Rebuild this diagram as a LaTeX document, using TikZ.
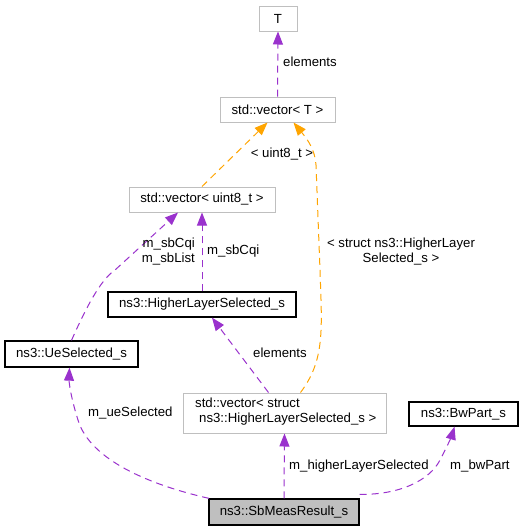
\documentclass[tikz,border=0pt]{standalone}
\usepackage{fontspec}
\setmainfont{Liberation Sans}
\usetikzlibrary{arrows.meta}
\definecolor{edgepurple}{RGB}{154,50,205}
\definecolor{edgeorange}{RGB}{255,165,0}
\definecolor{boxgrey}{RGB}{191,191,191}
\begin{document}
\begin{tikzpicture}[x=1pt,y=-1pt,
  every node/.style={font=\fontsize{13.2}{15}\selectfont, inner sep=0pt},
  greybox/.style={draw=boxgrey, line width=1pt, fill=white},
  blackbox/.style={draw=black, line width=1.3pt, fill=white},
  mainbox/.style={draw=black, line width=1.3pt, fill=boxgrey},
  purp/.style={draw=edgepurple, line width=1pt, dash pattern=on 7pt off 5pt, -{Triangle[length=13pt,width=10pt,fill=edgepurple]}},
  oran/.style={draw=edgeorange, line width=1pt, dash pattern=on 7pt off 5pt, -{Triangle[length=13pt,width=10pt,fill=edgeorange]}},
  lbl/.style={font=\fontsize{13.2}{15}\selectfont, inner sep=0pt}]
\useasboundingbox (0,0) rectangle (524,531);
\fill[white] (0,0) rectangle (524,531);
% nodes
\node[greybox, minimum width=38pt, minimum height=25pt] (T) at (278,18.5) {T};
\node[greybox, minimum width=115pt, minimum height=25pt] (vecT) at (277.5,109.5) {std::vector< T >};
\node[greybox, minimum width=146pt, minimum height=25pt] (vecU) at (202,199.5) {std::vector< uint8\_t >};
\node[blackbox, minimum width=188pt, minimum height=25pt] (HLS) at (202,304.5) {ns3::HigherLayerSelected\_s};
\node[blackbox, minimum width=133pt, minimum height=26pt] (Ue) at (71.5,354) {ns3::UeSelected\_s};
\node[greybox, minimum width=203pt, minimum height=40pt] (vecS) at (284.5,413) {};
\node[lbl, anchor=north west, align=left] (vecStxt) at (195,398) {std::vector< struct\\\hspace{4pt}ns3::HigherLayerSelected\_s >};
\node[blackbox, minimum width=109pt, minimum height=24pt] (Bw) at (463.5,414) {ns3::BwPart\_s};
\node[mainbox, minimum width=150pt, minimum height=26pt] (Sb) at (284,512) {ns3::SbMeasResult\_s};
% edges
\draw[purp] (vecT.north) -- (T.south);
\node[lbl, anchor=west] (l1) at (283,62) {elements};
\draw[oran] (vecU.north) -- ([xshift=-10pt]vecT.south);
\node[lbl] (l2) at (282,154) {< uint8\_t >};
\draw[oran] ([xshift=16pt]vecS.north) .. controls (325,360) and (322,330) .. (320,270)
  -- (316,165) .. controls (315,150) and (308,140) .. ([xshift=16pt]vecT.south);
\node[lbl, align=center] (l3) at (401,252) {< struct ns3::HigherLayer\\Selected\_s >};
\draw[purp] (Ue.north) .. controls (85,310) and (100,280) .. (115,270) -- ([xshift=-24pt]vecU.south);
\node[lbl, align=right, anchor=east] (l4) at (195,252) {m\_sbCqi\\m\_sbList};
\draw[purp] (HLS.north) -- (vecU.south);
\node[lbl, anchor=west] (l5) at (207,251) {m\_sbCqi};
\draw[purp] ([xshift=-16pt]vecS.north) -- ([xshift=10pt]HLS.south);
\node[lbl, anchor=west] (l6) at (253,353) {elements};
\draw[purp] ([xshift=-75pt]Sb.north) .. controls (150,485) and (90,460) .. (78,420) .. controls (70,395) and (69,380) .. ([xshift=-2pt]Ue.south);
\node[lbl, anchor=west] (l7) at (88,413) {m\_ueSelected};
\draw[purp] (Sb.north) -- (vecS.south);
\node[lbl, anchor=west] (l8) at (289,466) {m\_higherLayerSelected};
\draw[purp] ([yshift=4pt]Sb.north east) .. controls (400,495) and (430,480) .. (440,460) .. controls (448,445) and (452,435) .. ([xshift=-9pt]Bw.south);
\node[lbl, anchor=west] (l9) at (450,466) {m\_bwPart};
\end{tikzpicture}
\end{document}
